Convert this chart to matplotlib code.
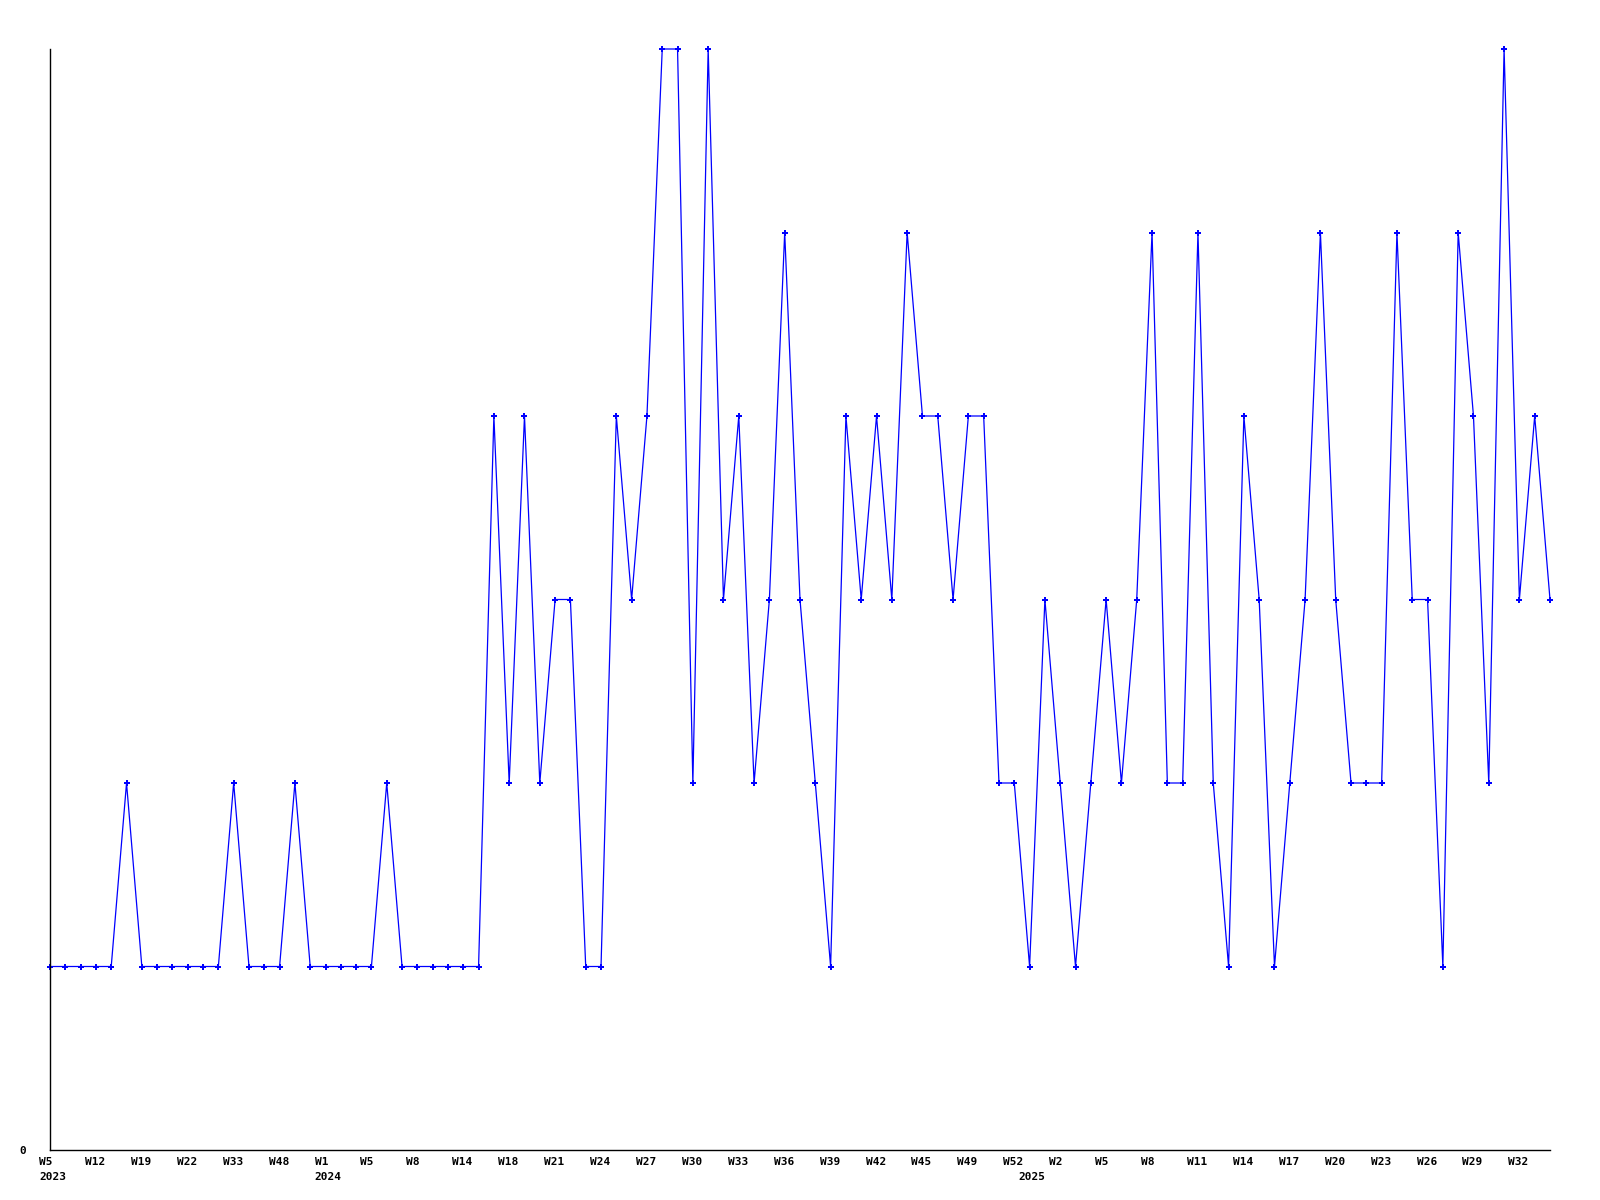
import matplotlib.pyplot as plt
import numpy as np

# weekly counts, one point per week present in the data
counts = [1, 1, 1, 1, 1, 2, 1, 1, 1, 1, 1, 1, 2, 1, 1, 1, 2, 1, 1, 1,
          1, 1, 2, 1, 1, 1, 1, 1, 1, 4, 2, 4, 2, 3, 3, 1, 1, 4, 3, 4,
          6, 6, 2, 6, 3, 4, 2, 3, 5, 3, 2, 1, 4, 3, 4, 3, 5, 4, 4, 3,
          4, 4, 2, 2, 1, 3, 2, 1, 2, 3, 2, 3, 5, 2, 2, 5, 2, 1, 4, 3,
          1, 2, 3, 5, 3, 2, 2, 2, 5, 3, 3, 1, 5, 4, 2, 6, 3, 4, 3]

week_labels = ["W5", "W12", "W19", "W22", "W33", "W48", "W1", "W5", "W8",
               "W14", "W18", "W21", "W24", "W27", "W30", "W33", "W36",
               "W39", "W42", "W45", "W49", "W52", "W2", "W5", "W8", "W11",
               "W14", "W17", "W20", "W23", "W26", "W29", "W32"]
label_step = 3
year_pos = [0, 18, 64]
year_labels = ["2023", "2024", "2025"]

plt.rcParams['font.family'] = 'DejaVu Sans Mono'
plt.rcParams['font.weight'] = 'bold'

fig = plt.figure(figsize=(16, 12), dpi=100)
ax = fig.add_axes([50 / 1600, 50 / 1200, 1500 / 1600, 1101 / 1200])

x = np.arange(len(counts))
ax.plot(x, counts, color='#0000ff', linewidth=0.9, marker='P',
        markersize=4.5, markeredgewidth=0, clip_on=False)

ax.set_xlim(0, len(counts) - 1)
ax.set_ylim(0, max(counts))

# week labels, left-aligned slightly before their point
major = np.arange(0, len(counts), label_step)[:len(week_labels)]
ax.set_xticks([])
for pos, lab in zip(major, week_labels):
    ax.annotate(lab, xy=(pos, 0), xycoords=('data', 'axes fraction'),
                xytext=(-11, -7), textcoords='offset pixels',
                ha='left', va='top', fontsize=8)
for pos, lab in zip(year_pos, year_labels):
    ax.annotate(lab, xy=(pos, 0), xycoords=('data', 'axes fraction'),
                xytext=(-11, -22), textcoords='offset pixels',
                ha='left', va='top', fontsize=8)

ax.set_yticks([0])
ax.set_yticklabels(["0"], fontsize=8)
ax.tick_params(axis='both', length=0)
ax.tick_params(axis='y', pad=17)

ax.spines['top'].set_visible(False)
ax.spines['right'].set_visible(False)
ax.spines['left'].set_linewidth(1)
ax.spines['bottom'].set_linewidth(1)

fig.savefig('out.png', dpi=100)
